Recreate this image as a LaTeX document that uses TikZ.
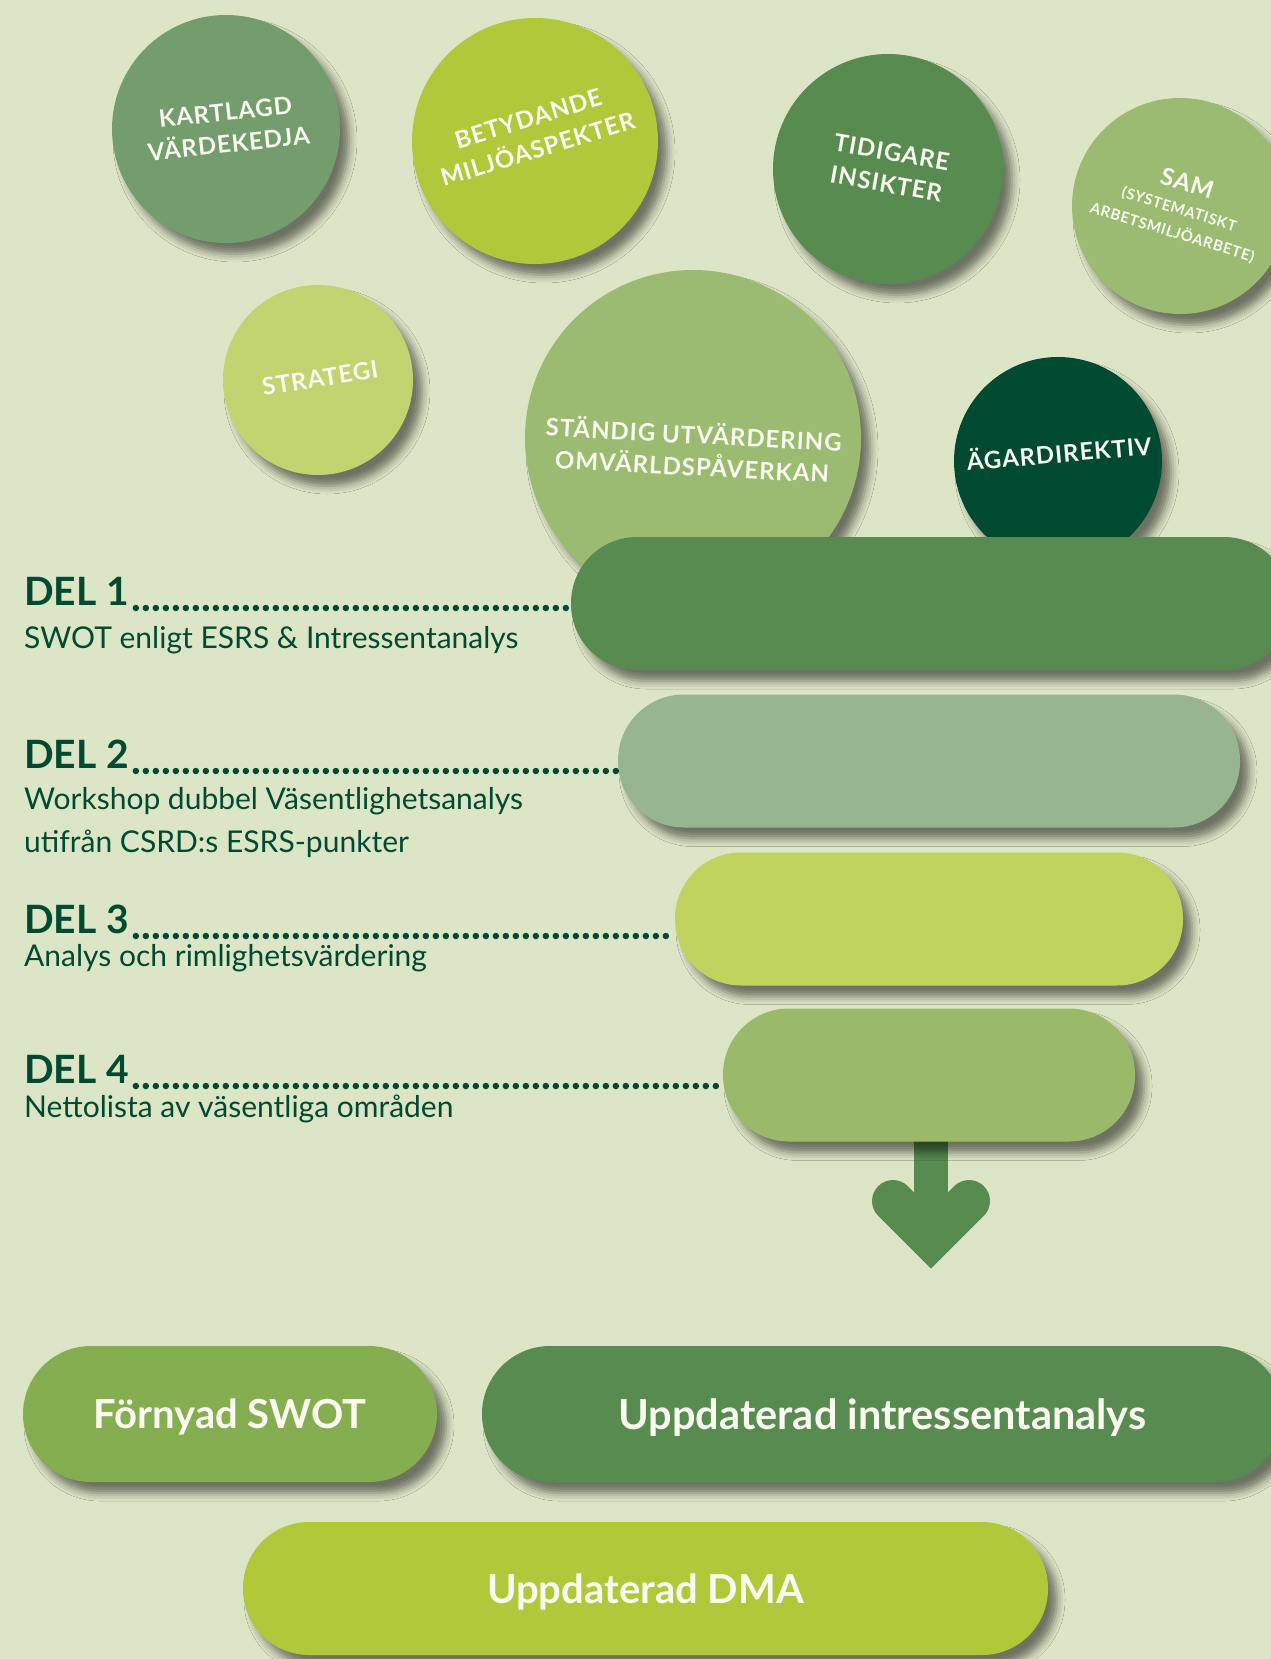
\documentclass[tikz,border=0pt]{standalone}
\usepackage{fontspec}
\setmainfont{Lato}
\newfontfamily\capsfont[LetterSpace=4]{Lato}
\usetikzlibrary{shadows.blur}

\definecolor{bgcream}{RGB}{221,229,199}
\definecolor{deepgreen}{RGB}{0,74,50}
\definecolor{offwhite}{RGB}{250,250,240}
\definecolor{sagegreen}{RGB}{115,157,109}
\definecolor{limegreen}{RGB}{176,200,58}
\definecolor{midgreen}{RGB}{87,139,80}
\definecolor{softgreen}{RGB}{154,187,112}
\definecolor{palelime}{RGB}{193,212,112}
\definecolor{greygreen}{RGB}{151,181,142}
\definecolor{yellowgreen}{RGB}{191,211,94}
\definecolor{leafgreen}{RGB}{154,186,106}
\definecolor{grassgreen}{RGB}{132,174,80}

\begin{document}
\begin{tikzpicture}[x=1pt,y=1pt,yscale=-1,
	softshadow/.style={blur shadow={shadow xshift=9pt,shadow yshift=-11pt,shadow blur radius=8pt,shadow opacity=50}},
	bubble/.style={circle,inner sep=0pt,minimum size=#1,softshadow},
	bubbletext/.style={text=offwhite,align=center,inner sep=0pt,font=\capsfont\bfseries\fontsize{24}{32}\selectfont},
	pill/.style={rectangle,rounded corners=66pt,minimum height=133pt,minimum width=#1,inner sep=0pt,softshadow},
	pilltext/.style={text=offwhite,text depth=0pt,font=\bfseries\fontsize{40}{40}\selectfont},
	dellabel/.style={anchor=base west,inner sep=0pt,text=deepgreen,font=\bfseries\fontsize{39}{39}\selectfont},
	deltext/.style={anchor=base west,inner sep=0pt,text=deepgreen,font=\fontsize{30}{30}\selectfont},
	leader/.style={deepgreen,line width=6.5pt,line cap=round,dash pattern=on 0pt off 10pt},
	]
	\useasboundingbox (0,0) rectangle (1271,1659);
	\fill[bgcream] (0,0) rectangle (1271,1659);
	\clip (0,0) rectangle (1271,1659);

	%Shape: Circles
	\node[bubble=228pt,fill=sagegreen] (kartlagd) at (226,129) {};
	\node[bubble=246pt,fill=limegreen] (betydande) at (535,141) {};
	\node[bubble=230pt,fill=midgreen] (tidigare) at (888,169) {};
	\node[bubble=216pt,fill=softgreen] (sam) at (1180,206) {};
	\node[bubble=190pt,fill=palelime] (strategi) at (318,380) {};
	\node[bubble=336pt,fill=softgreen] (standig) at (693,438) {};
	\node[bubble=208pt,fill=deepgreen] (agare) at (1058,461) {};

	% Text Node
	\node[bubbletext,rotate=6] (kartlagd-t) at (227,128) {KARTLAGD\\VÄRDEKEDJA};
	% Text Node
	\node[bubbletext,rotate=17] (betydande-t) at (533,134) {BETYDANDE\\MILJÖASPEKTER};
	% Text Node
	\node[bubbletext,rotate=-10] (tidigare-t) at (889,168) {TIDIGARE\\INSIKTER};
	% Text Node
	\node[bubbletext,rotate=-17,font=\capsfont\bfseries\fontsize{15}{24}\selectfont] (sam-t) at (1180,207)
		{{\fontsize{24}{24}\selectfont SAM}\\(SYSTEMATISKT\\ARBETSMILJÖARBETE)};
	% Text Node
	\node[bubbletext,rotate=9] (strategi-t) at (320,378) {STRATEGI};
	% Text Node
	\node[bubbletext,rotate=-3] (standig-t) at (693,449) {STÄNDIG UTVÄRDERING\\OMVÄRLDSPÅVERKAN};
	% Text Node
	\node[bubbletext,rotate=5] (agare-t) at (1059,452) {ÄGARDIREKTIV};

	%Arrow
	\coordinate (arrowtip) at (931,1239);
	\draw[midgreen,line width=34pt] (931,1130) -- (arrowtip);
	\draw[midgreen,line width=42pt,line cap=round,miter limit=3] ([shift={(-38,-38)}]arrowtip) -- (arrowtip) -- ([shift={(38,-38)}]arrowtip);

	%Shape: Pills
	\node[pill=719pt,fill=midgreen] (del1) at (930.5,603.5) {};
	\node[pill=622pt,fill=greygreen] (del2) at (929,761) {};
	\node[pill=508pt,fill=yellowgreen] (del3) at (929,919) {};
	\node[pill=412pt,fill=leafgreen] (del4) at (929,1075) {};

	% Text Node
	\node[dellabel] (del1-l) at (24,605) {DEL 1};
	\node[deltext] (del1-t) at (24,648) {SWOT enligt ESRS \& Intressentanalys};
	% Text Node
	\node[dellabel] (del2-l) at (24,768) {DEL 2};
	\node[deltext] (del2-t) at (24,809) {Workshop dubbel Väsentlighetsanalys};
	\node[deltext] (del2-u) at (24,852) {utifrån CSRD:s ESRS-punkter};
	% Text Node
	\node[dellabel] (del3-l) at (24,933) {DEL 3};
	\node[deltext] (del3-t) at (24,966) {Analys och rimlighetsvärdering};
	% Text Node
	\node[dellabel] (del4-l) at (24,1083) {DEL 4};
	\node[deltext] (del4-t) at (24,1117) {Nettolista av väsentliga områden};

	%Dotted Lines
	\foreach \i in {1,...,4}{
		\coordinate (dots\i) at ([xshift=7pt,yshift=3pt]del\i-l.base east);
		\draw[leader] (dots\i) -- (dots\i -| del\i.west);
	}

	%Shape: Result pills
	\node[pill=414pt,minimum height=136pt,rounded corners=68pt,fill=grassgreen,pilltext] (swot) at (230,1414) {Förnyad SWOT};
	\node[pill=801pt,minimum height=136pt,rounded corners=68pt,fill=midgreen,pilltext,font=\bfseries\fontsize{41.5}{41.5}\selectfont] (intressent) at (882.5,1414) {Uppdaterad intressentanalys};
	\node[pill=805pt,fill=limegreen,pilltext] (dma) at (645.5,1588.5) {Uppdaterad DMA};
\end{tikzpicture}
\end{document}
